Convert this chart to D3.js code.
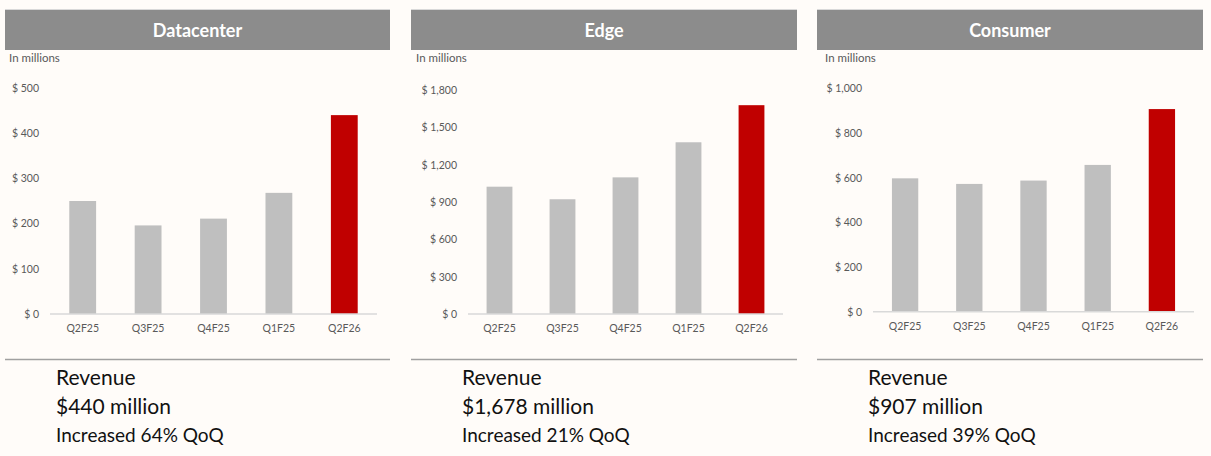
<!DOCTYPE html>
<html>
<head>
<meta charset="utf-8">
<script src="https://cdn.jsdelivr.net/npm/d3@7"></script>
<style>
  html, body { margin: 0; padding: 0; background: #fffcf9; }
  svg { display: block; font-family: Lato, "Open Sans", sans-serif; }
  .tick text { fill: #595959; font-size: 10.5px; font-family: Lato, "Open Sans", sans-serif; }
</style>
</head>
<body>
<svg id="chart" width="1211" height="456"></svg>
<script>
const quarters = ["Q2F25", "Q3F25", "Q4F25", "Q1F25", "Q2F26"];
const titles = ["Datacenter", "Edge", "Consumer"];

const datacenterRevenue = [250, 196, 211, 268, 440];
const edgeRevenue = [1023, 922, 1098, 1380, 1678];
const consumerRevenue = [597, 572, 587, 657, 907];

const datacenterTicks = [0, 100, 200, 300, 400, 500];
const edgeTicks = [0, 300, 600, 900, 1200, 1500, 1800];
const consumerTicks = [0, 200, 400, 600, 800, 1000];

const headlines = ["$440 million", "$1,678 million", "$907 million"];
const growth = ["Increased 64% QoQ", "Increased 21% QoQ", "Increased 39% QoQ"];

// layout for each panel (pixels)
const panels = [
  { values: datacenterRevenue, ticks: datacenterTicks, x0: 5, x1: 390, ax0: 50, ax1: 377, top: 88, base: 314, lblX: 39, unitX: 9, textX: 56 },
  { values: edgeRevenue, ticks: edgeTicks, x0: 411, x1: 797, ax0: 468, ax1: 783, top: 90, base: 314, lblX: 457, unitX: 416, textX: 462 },
  { values: consumerRevenue, ticks: consumerTicks, x0: 817, x1: 1203, ax0: 873, ax1: 1194, top: 88.3, base: 311.7, lblX: 862, unitX: 825, textX: 868 }
];

const GRAY = "#bfbfbf";
const RED = "#c00000";

const svg = d3.select("#chart");
svg.append("rect").attr("width", 1211).attr("height", 456).attr("fill", "#fffcf9");

panels.forEach((p, i) => {
  const g = svg.append("g");

  // header band
  g.append("rect")
    .attr("x", p.x0).attr("y", 9)
    .attr("width", p.x1 - p.x0).attr("height", 1)
    .attr("fill", "#d9d9d9");
  g.append("rect")
    .attr("x", p.x0).attr("y", 10)
    .attr("width", p.x1 - p.x0).attr("height", 40)
    .attr("fill", "#8c8c8c");
  g.append("text")
    .attr("x", (p.x0 + p.x1) / 2).attr("y", 30)
    .attr("text-anchor", "middle").attr("dominant-baseline", "central")
    .attr("fill", "#fff").attr("font-weight", 700).attr("font-size", 18)
    .text(titles[i]);

  g.append("text")
    .attr("x", p.unitX).attr("y", 57.5)
    .attr("dominant-baseline", "central")
    .attr("fill", "#595959").attr("font-size", 11.5)
    .text("In millions");

  const x = d3.scaleBand()
    .domain(quarters)
    .range([p.ax0, p.ax1])
    .paddingInner(0.59)
    .paddingOuter(0.295);

  const y = d3.scaleLinear()
    .domain([0, d3.max(p.ticks)])
    .range([p.base, p.top]);

  // y axis labels only
  const yAxis = g.append("g")
    .attr("transform", `translate(${p.lblX},0)`)
    .call(d3.axisLeft(y).tickValues(p.ticks).tickSize(0).tickPadding(0)
      .tickFormat(d => "$ " + d3.format(",")(d)));
  yAxis.select(".domain").remove();

  // bars
  g.append("g")
    .selectAll("rect")
    .data(p.values)
    .join("rect")
    .attr("x", (d, j) => x(quarters[j]))
    .attr("y", d => y(d))
    .attr("width", x.bandwidth())
    .attr("height", d => y(0) - y(d))
    .attr("fill", (d, j) => j === quarters.length - 1 ? RED : GRAY);

  // baseline + category labels
  const xAxis = g.append("g")
    .attr("transform", `translate(0,${p.base})`)
    .call(d3.axisBottom(x).tickSize(0).tickPadding(11).tickSizeOuter(0));
  xAxis.select(".domain")
    .attr("stroke", "#d9d9d9").attr("stroke-width", 1.5)
    .attr("d", `M${p.ax0},0H${p.ax1}`);

  // separator line and summary text
  g.append("line")
    .attr("x1", p.x0).attr("x2", p.x1)
    .attr("y1", 359.5).attr("y2", 359.5)
    .attr("stroke", "#a0a0a0").attr("stroke-width", 1.5);

  g.append("text")
    .attr("x", p.textX).attr("y", 385)
    .attr("fill", "#111").attr("font-size", 21)
    .text("Revenue");
  g.append("text")
    .attr("x", p.textX).attr("y", 414)
    .attr("fill", "#111").attr("font-size", 21)
    .text(headlines[i]);
  g.append("text")
    .attr("x", p.textX).attr("y", 441.5)
    .attr("fill", "#111").attr("font-size", 19)
    .text(growth[i]);
});
</script>
</body>
</html>
